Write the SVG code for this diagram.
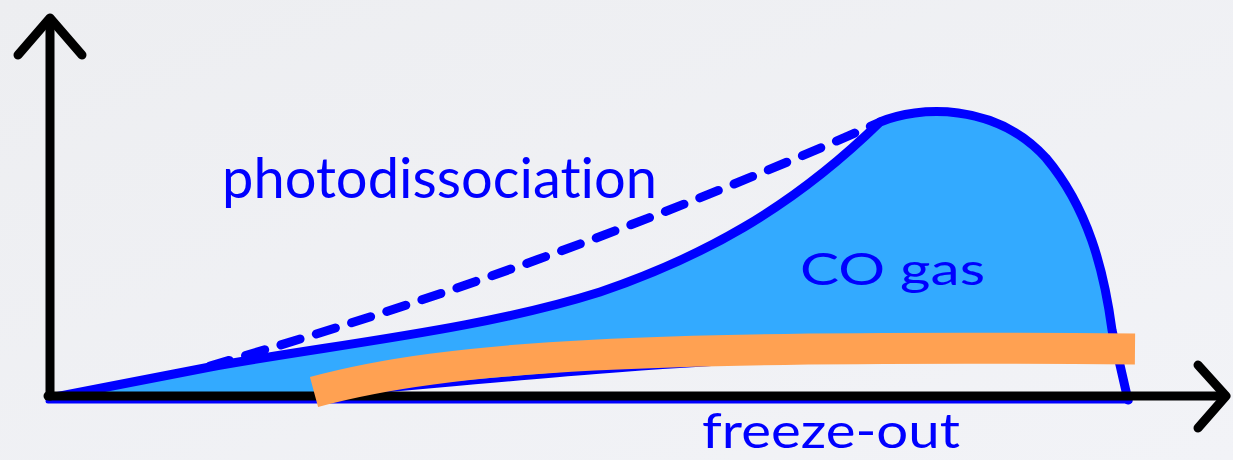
<svg xmlns="http://www.w3.org/2000/svg" width="1233" height="460" viewBox="0 0 1233 460">
  <style>
    .lbl { font-family: "Lato", "Open Sans", "DejaVu Sans", sans-serif; fill: #0000FF; font-variant-ligatures: none; font-feature-settings: "liga" 0, "clig" 0; }
    .axis { fill: none; stroke: #000000; stroke-width: 9; stroke-linecap: round; stroke-linejoin: round; }
    .blue { fill: none; stroke: #0000FF; stroke-linecap: round; stroke-linejoin: round; }
  </style>
  <defs>
    <linearGradient id="bg" x1="0" y1="0" x2="1" y2="1">
      <stop offset="0" stop-color="#EDEEF1"/>
      <stop offset="1" stop-color="#F2F3F7"/>
    </linearGradient>
  </defs>
  <rect x="0" y="0" width="1233" height="460" fill="url(#bg)"/>

  <g id="co-gas-region">
    <path d="M50,398 L210,367 C330,345 480,330 600,292 C700,258 790,210 880,122 C918,106 995,102 1046,158 C1088,208 1104,270 1112,330 L1117,356 L760,360 C600,368 420,388 300,397 L50,398 Z" fill="#33AAFF"/>
    <path class="blue" d="M760,361 C600,368 420,388 300,397" stroke-width="5"/>
  </g>

  <g id="photodissociation-curve">
    <path class="blue" d="M210,366 Q555,266 880,122" stroke-width="9" stroke-dasharray="20 17"/>
  </g>

  <g id="co-gas-boundary">
    <path class="blue" d="M50,398 L210,367 C330,345 480,330 600,292 C700,258 790,210 880,122 C918,106 995,102 1046,158 C1088,208 1104,270 1112,330 L1128,400" stroke-width="9"/>
    <line class="blue" x1="48" y1="401" x2="1130" y2="401" stroke-width="5"/>
  </g>

  <g id="axes">
    <line class="axis" x1="50" y1="396" x2="50" y2="19"/>
    <polyline class="axis" points="18,55 50,18 82,55"/>
    <line class="axis" x1="48" y1="396" x2="1225" y2="396"/>
    <polyline class="axis" points="1198,365 1226,396 1198,428"/>
  </g>

  <g id="freeze-out-band">
    <path d="M314,392 C450,355 650,345 1135,349" fill="none" stroke="#FFA152" stroke-width="31" stroke-linecap="butt"/>
  </g>

  <g id="labels">
    <text class="lbl" x="222" y="198" font-size="56" textLength="435" lengthAdjust="spacingAndGlyphs">photodissociation</text>
    <text class="lbl" x="800" y="285" font-size="45" textLength="185" lengthAdjust="spacingAndGlyphs">CO gas</text>
    <text class="lbl" x="702" y="448" font-size="48" textLength="258" lengthAdjust="spacingAndGlyphs">freeze-out</text>
  </g>
</svg>
